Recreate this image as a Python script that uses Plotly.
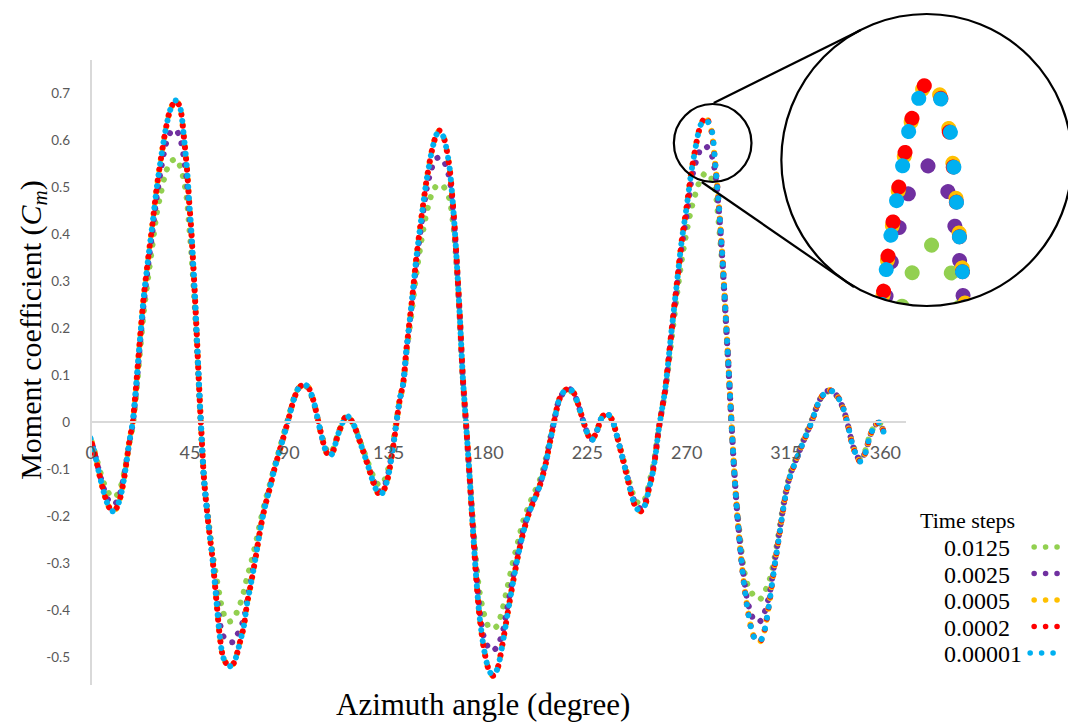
import math
import plotly.graph_objects as go

FIG_W, FIG_H = 1068, 722

# ---------------------------------------------------------------- data
# Azimuth angle (degree) at which the moment coefficient was sampled
azimuth = [
    0, 1.8, 4, 6, 8, 9.8, 11.5, 13.5, 15.3, 17.6,
    19.1, 20.6, 22, 24, 26, 28, 30, 32, 34, 36,
    38.5, 40.5, 42.4, 43.7, 44.6, 45.5, 46.9, 48, 49.1, 50,
    51.4, 53.3, 55.3, 57, 58.5, 60, 62.5, 64.6, 66.5, 67.9,
    69.4, 70.9, 72.4, 74.7, 77, 79, 81.5, 83, 86, 89.3,
    92, 94.2, 96.5, 98.5, 101, 104, 107, 109, 112.3, 116,
    119, 122.8, 125.8, 128, 130, 131.5, 133.3, 134.8, 137, 138.5,
    140, 141.6, 143.2, 145.5, 147.7, 150, 152.2, 154.5, 156.5, 158,
    160, 162.5, 164.5, 166, 167.3, 168.6, 170.1, 171.6, 173, 174.5,
    176, 178, 180.2, 182.2, 184.3, 186.5, 188.8, 191.2, 193.6, 196,
    198.5, 201, 203, 204.7, 206.2, 207.7, 209.2, 210.7, 212.2, 214.4,
    216.7, 219, 221.2, 223.5, 225.7, 227.2, 229.5, 231.7, 234, 236.3,
    238.5, 240.8, 243, 245, 247, 249.2, 251.3, 253, 254.3, 255.8,
    257.3, 258.8, 260.3, 263.3, 265.6, 267.8, 270, 272.2, 274.6, 276.1,
    278.6, 281.2, 283, 284.6, 286.2, 287.6, 289, 290.3, 291.5, 292.8,
    294.5, 296, 297.5, 299.3, 301, 303.3, 305.3, 307.6, 309.8, 312.1,
    314.4, 316.8, 319.6, 322, 324.5, 327, 329, 331, 334.7, 338,
    341, 343.3, 345.5, 348.6, 351, 353, 355.5, 357.4, 359.5,
]

# Moment coefficient Cm for each time step
cm_dt_0_0125 = [
    -0.035, -0.062, -0.1, -0.13, -0.15, -0.16, -0.158, -0.14, -0.105, -0.045,
    -0.01, 0.055, 0.13, 0.23, 0.305, 0.375, 0.445, 0.49, 0.53, 0.552,
    0.56, 0.545, 0.51, 0.47, 0.42, 0.37, 0.27, 0.175, 0.07, -0.015,
    -0.125, -0.205, -0.28, -0.33, -0.37, -0.405, -0.425, -0.42, -0.402, -0.385,
    -0.361, -0.33, -0.305, -0.26, -0.21, -0.17, -0.128, -0.1, -0.05, 0.005,
    0.05, 0.072, 0.078, 0.072, 0.042, -0.015, -0.06, -0.065, -0.022, 0.012,
    -0.004, -0.05, -0.088, -0.115, -0.132, -0.135, -0.122, -0.1, -0.045, 0.002,
    0.045, 0.08, 0.15, 0.235, 0.32, 0.39, 0.445, 0.485, 0.502, 0.505,
    0.5, 0.475, 0.41, 0.32, 0.215, 0.09, -0.01, -0.11, -0.2, -0.29,
    -0.355, -0.405, -0.435, -0.44, -0.433, -0.4, -0.352, -0.3, -0.255, -0.21,
    -0.178, -0.15, -0.13, -0.105, -0.078, -0.045, -0.012, 0.02, 0.047, 0.063,
    0.068, 0.058, 0.03, -0.004, -0.03, -0.035, -0.016, 0.01, 0.016, 0.003,
    -0.03, -0.07, -0.108, -0.143, -0.168, -0.175, -0.162, -0.13, -0.105, -0.066,
    -0.015, 0.026, 0.065, 0.18, 0.27, 0.345, 0.405, 0.455, 0.495, 0.515,
    0.53, 0.518, 0.49, 0.42, 0.33, 0.22, 0.105, -0.005, -0.1, -0.18,
    -0.26, -0.315, -0.345, -0.362, -0.373, -0.377, -0.362, -0.335, -0.29, -0.225,
    -0.16, -0.11, -0.076, -0.048, -0.02, 0.008, 0.034, 0.052, 0.066, 0.055,
    0.027, -0.012, -0.052, -0.078, -0.06, -0.028, -0.006, -0.002, -0.025,
]

cm_dt_0_0025 = [
    -0.035, -0.065, -0.108, -0.142, -0.166, -0.175, -0.172, -0.15, -0.11, -0.042,
    -0.003, 0.068, 0.145, 0.25, 0.33, 0.405, 0.48, 0.54, 0.59, 0.615,
    0.622, 0.605, 0.557, 0.508, 0.455, 0.4, 0.29, 0.188, 0.077, -0.008,
    -0.123, -0.212, -0.29, -0.365, -0.425, -0.455, -0.468, -0.468, -0.452, -0.438,
    -0.42, -0.38, -0.345, -0.285, -0.222, -0.178, -0.133, -0.103, -0.054, 0.001,
    0.048, 0.072, 0.08, 0.074, 0.044, -0.017, -0.064, -0.068, -0.023, 0.013,
    -0.004, -0.052, -0.093, -0.123, -0.143, -0.148, -0.134, -0.11, -0.052, -0.002,
    0.046, 0.081, 0.157, 0.25, 0.345, 0.425, 0.495, 0.54, 0.56, 0.563,
    0.555, 0.52, 0.435, 0.327, 0.218, 0.093, -0.006, -0.11, -0.21, -0.31,
    -0.39, -0.455, -0.48, -0.487, -0.477, -0.45, -0.395, -0.335, -0.28, -0.23,
    -0.192, -0.162, -0.14, -0.114, -0.086, -0.05, -0.016, 0.018, 0.047, 0.064,
    0.071, 0.06, 0.032, -0.003, -0.031, -0.037, -0.017, 0.011, 0.017, 0.004,
    -0.031, -0.073, -0.114, -0.15, -0.176, -0.184, -0.17, -0.137, -0.113, -0.072,
    -0.017, 0.026, 0.068, 0.195, 0.29, 0.375, 0.44, 0.515, 0.56, 0.578,
    0.587, 0.57, 0.527, 0.45, 0.345, 0.232, 0.113, -0.001, -0.1, -0.188,
    -0.275, -0.335, -0.38, -0.41, -0.424, -0.424, -0.405, -0.365, -0.3, -0.232,
    -0.164, -0.114, -0.08, -0.051, -0.023, 0.006, 0.033, 0.053, 0.068, 0.056,
    0.028, -0.012, -0.054, -0.082, -0.064, -0.03, -0.006, -0.001, -0.026,
]

cm_dt_0_0005 = [
    -0.035, -0.066, -0.112, -0.15, -0.178, -0.19, -0.185, -0.16, -0.116, -0.04,
    0.0, 0.075, 0.155, 0.262, 0.345, 0.42, 0.5, 0.565, 0.622, 0.663,
    0.685, 0.67, 0.6, 0.536, 0.472, 0.415, 0.3, 0.195, 0.081, -0.005,
    -0.123, -0.215, -0.294, -0.38, -0.455, -0.5, -0.52, -0.515, -0.49, -0.464,
    -0.435, -0.386, -0.35, -0.29, -0.225, -0.18, -0.135, -0.105, -0.055, 0.0,
    0.047, 0.072, 0.08, 0.075, 0.045, -0.017, -0.066, -0.07, -0.024, 0.014,
    -0.004, -0.053, -0.095, -0.128, -0.15, -0.155, -0.14, -0.116, -0.055, -0.003,
    0.047, 0.082, 0.16, 0.255, 0.355, 0.44, 0.515, 0.575, 0.61, 0.62,
    0.605, 0.545, 0.44, 0.33, 0.22, 0.095, -0.005, -0.11, -0.215, -0.32,
    -0.405, -0.478, -0.525, -0.54, -0.525, -0.475, -0.41, -0.345, -0.285, -0.235,
    -0.195, -0.165, -0.142, -0.116, -0.088, -0.052, -0.017, 0.018, 0.047, 0.065,
    0.072, 0.061, 0.033, -0.003, -0.031, -0.038, -0.017, 0.011, 0.018, 0.004,
    -0.031, -0.074, -0.116, -0.155, -0.182, -0.19, -0.175, -0.14, -0.116, -0.074,
    -0.017, 0.026, 0.07, 0.2, 0.296, 0.387, 0.458, 0.535, 0.598, 0.628,
    0.65, 0.62, 0.545, 0.46, 0.35, 0.235, 0.115, 0.0, -0.1, -0.19,
    -0.28, -0.345, -0.395, -0.44, -0.462, -0.467, -0.443, -0.379, -0.307, -0.236,
    -0.166, -0.116, -0.081, -0.052, -0.024, 0.005, 0.033, 0.053, 0.068, 0.057,
    0.028, -0.012, -0.055, -0.084, -0.065, -0.03, -0.006, -0.001, -0.026,
]

cm_dt_0_0002 = [
    -0.035, -0.066, -0.112, -0.15, -0.178, -0.19, -0.185, -0.16, -0.116, -0.04,
    0.0, 0.075, 0.155, 0.262, 0.345, 0.42, 0.5, 0.565, 0.622, 0.663,
    0.685, 0.67, 0.6, 0.536, 0.472, 0.415, 0.3, 0.195, 0.081, -0.005,
    -0.123, -0.215, -0.294, -0.38, -0.455, -0.5, -0.52, -0.515, -0.49, -0.464,
    -0.435, -0.386, -0.35, -0.29, -0.225, -0.18, -0.135, -0.105, -0.055, 0.0,
    0.047, 0.072, 0.08, 0.075, 0.045, -0.017, -0.066, -0.07, -0.024, 0.014,
    -0.004, -0.053, -0.095, -0.128, -0.15, -0.155, -0.14, -0.116, -0.055, -0.003,
    0.047, 0.082, 0.16, 0.255, 0.355, 0.44, 0.515, 0.575, 0.61, 0.62,
    0.605, 0.545, 0.44, 0.33, 0.22, 0.095, -0.005, -0.11, -0.215, -0.32,
    -0.405, -0.478, -0.525, -0.54, -0.525, -0.475, -0.41, -0.345, -0.285, -0.235,
    -0.195, -0.165, -0.142, -0.116, -0.088, -0.052, -0.017, 0.018, 0.047, 0.065,
    0.072, 0.061, 0.033, -0.003, -0.031, -0.038, -0.017, 0.011, 0.018, 0.004,
    -0.031, -0.074, -0.116, -0.155, -0.182, -0.19, -0.175, -0.14, -0.116, -0.074,
    -0.017, 0.026, 0.07, 0.2, 0.296, 0.387, 0.458, 0.535, 0.598, 0.628,
    0.65, 0.62, 0.545, 0.46, 0.35, 0.235, 0.115, 0.0, -0.1, -0.19,
    -0.28, -0.345, -0.395, -0.44, -0.462, -0.467, -0.443, -0.379, -0.307, -0.236,
    -0.166, -0.116, -0.081, -0.052, -0.024, 0.005, 0.033, 0.053, 0.068, 0.057,
    0.028, -0.012, -0.055, -0.084, -0.065, -0.03, -0.006, -0.001, -0.026,
]

cm_dt_0_00001 = [
    -0.035, -0.066, -0.112, -0.15, -0.178, -0.19, -0.185, -0.16, -0.116, -0.04,
    0.0, 0.075, 0.155, 0.262, 0.345, 0.42, 0.5, 0.565, 0.622, 0.663,
    0.684, 0.67, 0.6, 0.536, 0.472, 0.415, 0.3, 0.195, 0.081, -0.005,
    -0.123, -0.215, -0.294, -0.38, -0.455, -0.5, -0.52, -0.516, -0.49, -0.464,
    -0.435, -0.386, -0.35, -0.29, -0.225, -0.18, -0.135, -0.105, -0.055, 0.0,
    0.047, 0.072, 0.08, 0.075, 0.045, -0.017, -0.066, -0.07, -0.024, 0.014,
    -0.004, -0.053, -0.095, -0.128, -0.15, -0.155, -0.14, -0.116, -0.055, -0.003,
    0.047, 0.082, 0.16, 0.255, 0.355, 0.44, 0.515, 0.575, 0.61, 0.619,
    0.605, 0.545, 0.44, 0.33, 0.22, 0.095, -0.005, -0.11, -0.215, -0.32,
    -0.405, -0.478, -0.525, -0.54, -0.525, -0.475, -0.41, -0.345, -0.285, -0.235,
    -0.195, -0.165, -0.142, -0.116, -0.088, -0.052, -0.017, 0.018, 0.047, 0.065,
    0.072, 0.061, 0.033, -0.003, -0.031, -0.038, -0.017, 0.011, 0.018, 0.004,
    -0.031, -0.074, -0.116, -0.155, -0.182, -0.19, -0.175, -0.14, -0.116, -0.074,
    -0.017, 0.026, 0.07, 0.2, 0.296, 0.387, 0.458, 0.535, 0.598, 0.63,
    0.644, 0.624, 0.545, 0.46, 0.35, 0.235, 0.115, 0.0, -0.1, -0.19,
    -0.28, -0.345, -0.395, -0.44, -0.462, -0.466, -0.443, -0.379, -0.307, -0.236,
    -0.166, -0.116, -0.081, -0.052, -0.024, 0.005, 0.033, 0.053, 0.068, 0.057,
    0.028, -0.012, -0.055, -0.084, -0.065, -0.03, -0.006, -0.001, -0.026,
]

time_steps = ["0.0125", "0.0025", "0.0005", "0.0002", "0.00001"]
series_values = [cm_dt_0_0125, cm_dt_0_0025, cm_dt_0_0005, cm_dt_0_0002, cm_dt_0_00001]
series_colors = ["#92D050", "#7030A0", "#FFC000", "#FF0000", "#00B0F0"]

x_ticks = [0, 45, 90, 135, 180, 225, 270, 315, 360]
x_tick_labels = ["0", "45", "90", "135", "180", "225", "270", "315", "360"]
y_ticks = [-0.5, -0.4, -0.3, -0.2, -0.1, 0, 0.1, 0.2, 0.3, 0.4, 0.5, 0.6, 0.7]
y_tick_labels = ["-0.5", "-0.4", "-0.3", "-0.2", "-0.1", "0",
                 "0.1", "0.2", "0.3", "0.4", "0.5", "0.6", "0.7"]

# ---------------------------------------------------------------- style
DOT_PERIOD = 11.0          # spacing of the dots along each main curve (px)
DOT_SIZE = 6.0
ZOOM_PERIOD = 35.0         # spacing of the dots inside the magnifier (px)
ZOOM_SIZE = 15
dot_phase = [8.2, 2.8, 6.7, 5.5, 0.0]   # dash offset per series, keeps colours interleaved

TICK_GREY = "#595959"
AXIS_GREY = "#D9D9D9"
SERIF = "Liberation Serif"
SANS = "Lato"


def px(x):
    """horizontal pixel -> paper fraction"""
    return x / FIG_W


def py(y):
    """vertical pixel (from top) -> paper fraction"""
    return 1 - y / FIG_H


fig = go.Figure()

# main dotted curves
for name, vals, col, ph in zip(time_steps, series_values, series_colors, dot_phase):
    fig.add_trace(go.Scatter(
        x=azimuth, y=vals, name=name, mode="lines",
        line=dict(color=col, width=DOT_SIZE, shape="spline", smoothing=0.7,
                  dash=f"0.01px,{DOT_PERIOD}px"),
        meta=ph, hoverinfo="skip", showlegend=False,
    ))

# same curves, magnified around the third peak
for name, vals, col, ph in zip(time_steps, series_values, series_colors, dot_phase):
    fig.add_trace(go.Scatter(
        x=azimuth, y=vals, name=name, mode="lines", xaxis="x2", yaxis="y2",
        line=dict(color=col, width=ZOOM_SIZE, shape="spline", smoothing=0.7,
                  dash=f"0.01px,{ZOOM_PERIOD}px"),
        meta=ph * ZOOM_PERIOD / DOT_PERIOD, hoverinfo="skip", showlegend=False,
    ))

shapes = []

# white mask so the magnified curves only show inside the big circle
big_cx, big_cy, big_r = 926, 160, 146
ring = []
for k in range(120):
    a = 2 * math.pi * k / 120
    ring.append(f"{px(big_cx + big_r * math.cos(a)):.5f},{py(big_cy + big_r * math.sin(a)):.5f}")
mask_path = "M" + " L".join(ring) + " Z"
mask_path += (f" M{px(772):.5f},{py(0):.5f} L{px(FIG_W):.5f},{py(0):.5f}"
              f" L{px(FIG_W):.5f},{py(322):.5f} L{px(772):.5f},{py(322):.5f} Z")
shapes.append(dict(type="path", path=mask_path, xref="paper", yref="paper",
                   fillcolor="white", fillrule="evenodd", line=dict(width=0), layer="above"))

outline = dict(color="black", width=2.2)
# small circle around the third peak
shapes.append(dict(type="circle", xref="paper", yref="paper",
                   x0=px(672), x1=px(750), y0=py(182), y1=py(104), line=outline))
# magnifier circle
shapes.append(dict(type="circle", xref="paper", yref="paper",
                   x0=px(big_cx - big_r), x1=px(big_cx + big_r),
                   y0=py(big_cy + big_r), y1=py(big_cy - big_r), line=outline))
# connecting lines
shapes.append(dict(type="line", xref="paper", yref="paper",
                   x0=px(712), y0=py(103), x1=px(860), y1=py(30), line=outline))
shapes.append(dict(type="line", xref="paper", yref="paper",
                   x0=px(700), y0=py(182), x1=px(853), y1=py(287), line=outline))

annotations = []

# legend: title, labels, and three dots per series to the right of the label
legend_rows = [547, 573.5, 600, 626.5, 653]
annotations.append(dict(text="Time steps", x=px(917), y=py(520), xref="paper", yref="paper",
                        xanchor="left", yanchor="middle", showarrow=False,
                        font=dict(family=SERIF, size=22, color="black")))
for i, (name, col) in enumerate(zip(time_steps, series_colors)):
    yc = legend_rows[i]
    annotations.append(dict(text=name, x=px(941), y=py(yc + 1), xref="paper", yref="paper",
                            xanchor="left", yanchor="middle", showarrow=False,
                            font=dict(family=SERIF, size=24, color="black")))
    x_start = 1030 if len(name) > 6 else 1034
    for j in range(3):
        cx = x_start + 11.5 * j
        shapes.append(dict(type="circle", xref="paper", yref="paper",
                           x0=px(cx - 2.8), x1=px(cx + 2.8), y0=py(yc + 2.8), y1=py(yc - 2.8),
                           fillcolor=col, line=dict(width=0)))

# axis titles
annotations.append(dict(text="Azimuth angle (degree)", x=px(480), y=py(704),
                        xref="paper", yref="paper", xanchor="center", yanchor="middle",
                        showarrow=False, font=dict(family=SERIF, size=31, color="black")))
annotations.append(dict(text="Moment coefficient (<i>C</i><sub><i>m</i></sub>)",
                        x=px(28), y=py(330), xref="paper", yref="paper", textangle=-90,
                        xanchor="center", yanchor="middle", showarrow=False,
                        font=dict(family=SERIF, size=30, color="black")))

fig.update_layout(
    width=FIG_W, height=FIG_H, autosize=False,
    margin=dict(l=0, r=0, t=0, b=0),
    paper_bgcolor="white", plot_bgcolor="rgba(0,0,0,0)",
    showlegend=False,
    xaxis=dict(
        domain=[px(86), px(905)], range=[0, 369.25],
        anchor="free", position=py(422),
        showline=True, linecolor=AXIS_GREY, linewidth=1.5,
        showgrid=False, zeroline=False, ticks="",
        tickmode="array", tickvals=x_ticks, ticktext=x_tick_labels,
        tickfont=dict(family=SANS, size=18, color=TICK_GREY),
        ticklabelstandoff=15,
    ),
    yaxis=dict(
        domain=[py(685), py(60)], range=[-0.5596, 0.7702],
        anchor="free", position=px(86),
        showline=True, linecolor=AXIS_GREY, linewidth=1.5,
        showgrid=False, zeroline=False, ticks="",
        tickmode="array", tickvals=y_ticks, ticktext=y_tick_labels,
        tickfont=dict(family=SANS, size=13.5, color=TICK_GREY),
        ticklabelstandoff=17,
    ),
    xaxis2=dict(domain=[px(780), 1.0], range=[254.8, 300.5], anchor="y2", visible=False),
    yaxis2=dict(domain=[py(306), py(14)], range=[0.4864, 0.695], anchor="x2", visible=False),
    shapes=shapes,
    annotations=annotations,
)

# round dash caps turn the dashed splines into chains of dots
dot_script = """
document.body.style.margin = '0';
var gd = document.getElementById('{plot_id}');
function roundDots() {
  gd.querySelectorAll('g.trace').forEach(function (g) {
    var cd = g.__data__;
    var tr = cd && cd[0] && cd[0].trace;
    var off = (tr && typeof tr.meta === 'number') ? tr.meta : 0;
    g.querySelectorAll('path.js-line').forEach(function (p) {
      p.style.strokeLinecap = 'round';
      p.style.strokeDashoffset = off + 'px';
    });
  });
}
roundDots();
gd.on('plotly_afterplot', roundDots);
"""

fig.write_html("out.html", post_script=dot_script)
